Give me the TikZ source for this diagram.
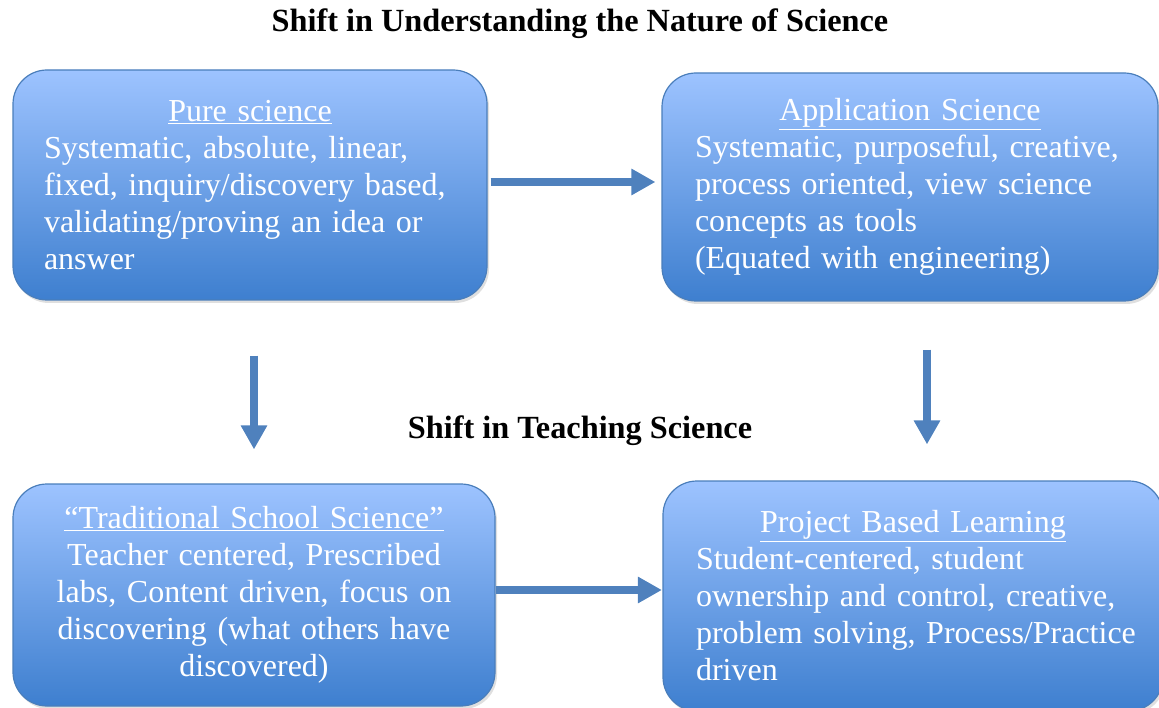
\documentclass[tikz,border=0pt]{standalone}
\usepackage{fontspec}
\setmainfont{Liberation Serif}
\usetikzlibrary{arrows.meta, shadows}
\definecolor{boxtop}{HTML}{9DC3FF}
\definecolor{boxbot}{HTML}{3E7FCF}
\definecolor{boxline}{HTML}{4A7EBB}
\definecolor{arblue}{HTML}{4F81BD}
\newcommand{\boxhead}[1]{\makebox[\hsize]{\underline{#1}}\\}
\begin{document}
\begin{tikzpicture}[x=1pt,y=-1pt,
  box/.style={draw=boxline,line width=1.2pt,rounded corners=34pt,
    top color=boxtop,bottom color=boxbot,text=white,
    font=\fontsize{32}{37}\selectfont,align=left,inner sep=0pt,
    drop shadow={opacity=0.25,shadow xshift=2pt,shadow yshift=-3pt}},
  head/.style={font=\bfseries\fontsize{32.3}{38}\selectfont},
  arj/.style={draw=arblue,line width=8pt,-{Triangle[length=24pt,width=25pt]}}]
  \useasboundingbox (0,0) rectangle (1159,708);
  \node(pure)[box,minimum width=474pt,minimum height=230pt,text width=412pt]
    at (250,185){\boxhead{Pure science}Systematic, absolute, linear,\\
    \mbox{fixed, inquiry/discovery based,}\\validating/proving an idea or\\answer};
  \node(appl)[box,minimum width=496pt,minimum height=228pt,text width=430pt]
    at (910,187){\boxhead{Application Science}\mbox{Systematic, purposeful, creative,}\\
    process oriented, view science\\concepts as tools\\(Equated with engineering)};
  \node(trad)[box,align=center,minimum width=482pt,minimum height=222pt,
    text width=440pt] at (254,595){\underline{“Traditional School Science”}\\
    Teacher centered, Prescribed\\labs, Content driven, focus on\\
    discovering (what others have\\discovered)};
  \node(pbl)[box,minimum width=500pt,minimum height=230pt,text width=434pt]
    at (913,596){\boxhead{Project Based Learning}Student-centered, student\\
    \mbox{ownership and control, creative,}\\\mbox{problem solving, Process/Practice}\\driven};
  % headings
  \node(nature)[head] at (580,24){Shift in Understanding the Nature of Science};
  \node(teach)[head] at (580,431){Shift in Teaching Science};
  % arrows
  \draw[arj,shorten <=3pt,shorten >=6pt] (pure.east |- 0,182) -- (appl.west |- 0,182);
  \draw[arj,shorten <=55pt,shorten >=34pt] (trad.north |- pure.south) -- (trad.north);
  \draw[arj,shorten <=48pt,shorten >=36pt] ([xshift=17pt]appl.south) -- ([xshift=14pt]pbl.north);
  \draw[arj,shorten >=0.5pt] (trad.east |- 0,590) -- (pbl.west |- 0,590);
\end{tikzpicture}
\end{document}
